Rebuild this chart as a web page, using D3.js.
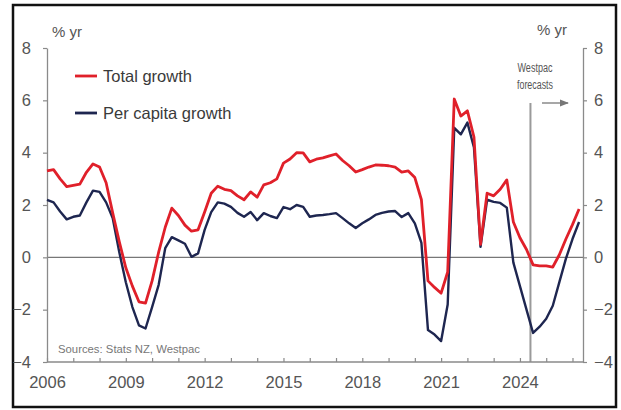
<!DOCTYPE html>
<html>
<head>
<meta charset="utf-8">
<script src="https://cdn.jsdelivr.net/npm/d3@7"></script>
<style>
  html, body { margin: 0; padding: 0; background: #fff; }
  svg { display: block; font-family: "Liberation Sans", Arial, sans-serif; }
</style>
</head>
<body>
<svg id="chart" width="621" height="410"></svg>
<script>
// Annual % growth, quarterly from 2006 Q1 (actuals + forecasts)
const startYear = 2006;
const totalGrowth = [
  3.3, 3.35, 3.0, 2.7, 2.75, 2.8, 3.25, 3.57, 3.45, 2.85,
  1.7, 0.6, -0.4, -1.1, -1.7, -1.75, -0.9, 0.2, 1.15, 1.88,
  1.6, 1.23, 1.0, 1.05, 1.73, 2.45, 2.72, 2.6, 2.55, 2.35,
  2.2, 2.5, 2.3, 2.77, 2.85, 3.0, 3.6, 3.76, 4.0, 3.99,
  3.65, 3.75, 3.8, 3.88, 3.95, 3.7, 3.5, 3.26, 3.35, 3.45,
  3.53, 3.52, 3.5, 3.45, 3.26, 3.3, 3.05, 2.2, -0.9, -1.15,
  -1.37, -0.56, 6.05, 5.4, 5.6, 4.6, 0.5, 2.45, 2.35, 2.6,
  2.96, 1.35, 0.75, 0.3, -0.29, -0.33, -0.33, -0.37, 0.1, 0.7,
  1.25, 1.85
];
const perCapitaGrowth = [
  2.2, 2.1, 1.75, 1.45, 1.55, 1.6, 2.1, 2.55, 2.5, 2.1,
  1.5, 0.2, -0.95, -1.9, -2.6, -2.72, -1.9, -1.05, 0.35, 0.77,
  0.65, 0.52, 0.02, 0.15, 1.05, 1.73, 2.1, 2.05, 1.93, 1.7,
  1.55, 1.73, 1.42, 1.69, 1.58, 1.5, 1.92, 1.84, 2.0, 1.93,
  1.55, 1.6, 1.62, 1.65, 1.69, 1.5, 1.3, 1.12, 1.3, 1.45,
  1.62, 1.7, 1.75, 1.77, 1.54, 1.69, 1.3, 0.55, -2.78, -2.95,
  -3.2, -1.8, 4.95, 4.7, 5.15, 4.2, 0.4, 2.2, 2.12, 2.08,
  1.9, -0.2, -1.1, -2.0, -2.89, -2.65, -2.35, -1.85, -0.95, -0.05,
  0.7, 1.35
];
const quarters = totalGrowth.map((_, i) => startYear + i * 0.25);
const yTicks = [-4, -2, 0, 2, 4, 6, 8];
const yearTicks = d3.range(2006, 2027);
const labelledYears = [2006, 2009, 2012, 2015, 2018, 2021, 2024];
const forecastStart = 2024.4;
const seriesNames = ["Total growth", "Per capita growth"];
const seriesColors = ["#e0202a", "#1e2650"];

const svg = d3.select("#chart");
const plotLeft = 47, plotRight = 583, plotTop = 48, plotBottom = 362;

const x = d3.scaleLinear().domain([2006, 2026.4]).range([plotLeft, plotRight]);
const y = d3.scaleLinear().domain([-4, 8]).range([plotBottom, plotTop]);

// frame
svg.append("rect").attr("x", 13).attr("y", 5).attr("width", 603).attr("height", 402)
  .attr("fill", "#fff").attr("stroke", "#111").attr("stroke-width", 2.5);

const axisColor = "#8a8a8a";
const tickText = "#555";

// zero line
svg.append("line").attr("x1", plotLeft).attr("x2", plotRight).attr("y1", y(0)).attr("y2", y(0))
  .attr("stroke", "#777").attr("stroke-width", 1.3);

// forecast divider
svg.append("line").attr("x1", x(forecastStart)).attr("x2", x(forecastStart))
  .attr("y1", 103).attr("y2", plotBottom)
  .attr("stroke", "#9a9a9a").attr("stroke-width", 2);

function styleAxis(g) {
  g.select(".domain").attr("stroke", axisColor).attr("stroke-width", 1.3);
  g.selectAll(".tick line").attr("stroke", axisColor).attr("stroke-width", 1.2);
  g.selectAll(".tick text").attr("fill", tickText).style("font-size", "16.5px")
    .style("font-family", "\"Liberation Sans\", Arial, sans-serif");
}

const yLeft = svg.append("g").attr("transform", `translate(${plotLeft},0)`)
  .call(d3.axisLeft(y).tickValues(yTicks).tickSize(4).tickPadding(12).tickSizeOuter(0));
styleAxis(yLeft);

const yRight = svg.append("g").attr("transform", `translate(${plotRight},0)`)
  .call(d3.axisRight(y).tickValues(yTicks).tickSize(4).tickPadding(7).tickSizeOuter(0));
styleAxis(yRight);

const xAxis = svg.append("g").attr("transform", `translate(0,${plotBottom})`)
  .call(d3.axisBottom(x).tickValues(yearTicks).tickSize(-4).tickPadding(14).tickSizeOuter(0)
    .tickFormat(d => labelledYears.includes(d) ? String(d) : ""));
styleAxis(xAxis);
xAxis.select(".domain").attr("d", `M${plotLeft},0H${plotRight}`);

// series
const line = d3.line().x((d, i) => x(quarters[i])).y(d => y(d));
[perCapitaGrowth, totalGrowth].forEach((vals, k) => {
  const col = k === 0 ? seriesColors[1] : seriesColors[0];
  svg.append("path").datum(vals).attr("d", line)
    .attr("fill", "none").attr("stroke", col)
    .attr("stroke-width", k === 0 ? 2.4 : 2.8)
    .attr("stroke-linejoin", "round");
});

// unit labels
svg.append("text").attr("x", 52).attr("y", 37).text("% yr")
  .attr("fill", tickText).style("font-size", "15px");
svg.append("text").attr("x", 537).attr("y", 35).text("% yr")
  .attr("fill", tickText).style("font-size", "15px");

// legend
const legend = svg.append("g");
seriesNames.forEach((name, i) => {
  const ly = 76 + i * 37;
  legend.append("line").attr("x1", 75).attr("x2", 97).attr("y1", ly).attr("y2", ly)
    .attr("stroke", seriesColors[i]).attr("stroke-width", 2.8);
  legend.append("text").attr("x", 103).attr("y", ly + 6).text(name)
    .attr("fill", "#3a3a3a").style("font-size", "16.5px");
});

// forecast annotation
svg.append("text").attr("x", 535).attr("y", 72).attr("text-anchor", "middle")
  .attr("textLength", 35).attr("lengthAdjust", "spacingAndGlyphs")
  .attr("fill", "#555").style("font-size", "12.5px").text("Westpac");
svg.append("text").attr("x", 535).attr("y", 89).attr("text-anchor", "middle")
  .attr("textLength", 36).attr("lengthAdjust", "spacingAndGlyphs")
  .attr("fill", "#555").style("font-size", "12.5px").text("forecasts");
svg.append("defs").append("marker").attr("id", "arrow")
  .attr("viewBox", "0 0 10 10").attr("refX", 9).attr("refY", 5)
  .attr("markerWidth", 7).attr("markerHeight", 7).attr("orient", "auto")
  .append("path").attr("d", "M0,1L10,5L0,9Z").attr("fill", "#777");
svg.append("line").attr("x1", 542).attr("x2", 568).attr("y1", 103).attr("y2", 103)
  .attr("stroke", "#777").attr("stroke-width", 1.3).attr("marker-end", "url(#arrow)");

// source note
svg.append("text").attr("x", 58).attr("y", 353)
  .attr("textLength", 142).attr("lengthAdjust", "spacingAndGlyphs")
  .attr("fill", "#777").style("font-size", "11.5px").text("Sources: Stats NZ, Westpac");
</script>
</body>
</html>
